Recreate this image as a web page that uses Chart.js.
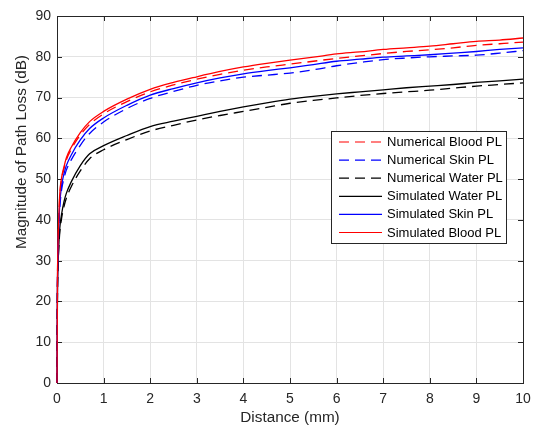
<!DOCTYPE html>
<html>
<head>
<meta charset="utf-8">
<script src="https://cdn.jsdelivr.net/npm/chart.js"></script>
<style>
	html, body { margin: 0; padding: 0; background: #fff; }
	#wrap { width: 534px; height: 429px; position: relative; }
</style>
</head>
<body>
<div id="wrap"><canvas id="plChart"></canvas></div>
<script>
// 거리 (mm)
const distance = [0, 0.01, 0.02, 0.04, 0.06, 0.1, 0.15, 0.2, 0.3, 0.5, 0.7, 1, 1.5, 2, 2.5, 3, 3.5, 4, 4.5, 5, 5.5, 6, 6.5, 7, 7.5, 8, 8.5, 9, 9.5, 10];

// 경로손실 (dB)
const numBlood = [0, 25, 33, 41, 46, 50, 52.6, 54.7, 57.2, 60.8, 63.4, 66, 69, 71.4, 73.1, 74.5, 75.7, 76.7, 77.5, 78.2, 78.9, 79.6, 80.2, 80.8, 81.3, 81.7, 82.2, 82.8, 83.2, 83.6];
const numSkin = [0, 24, 31, 38.5, 43, 47.5, 50.2, 52.2, 54.6, 58.3, 61.2, 64, 67.3, 69.8, 71.5, 73, 74.1, 75.0, 75.5, 76.0, 76.8, 77.8, 78.6, 79.3, 79.7, 80.0, 80.2, 80.4, 80.9, 81.5];
const numWater = [0, 22, 28, 33.5, 37, 40.5, 43.3, 45.3, 48, 52, 55, 57.2, 59.7, 61.8, 63.2, 64.5, 65.6, 66.6, 67.6, 68.6, 69.3, 69.9, 70.5, 71.0, 71.4, 71.8, 72.3, 72.8, 73.2, 73.6];
const simWater = [0, 22, 28, 34, 38, 41.5, 44.5, 46.5, 49.2, 53.3, 56.2, 58.2, 60.7, 62.9, 64.2, 65.4, 66.6, 67.7, 68.7, 69.6, 70.3, 70.9, 71.4, 71.9, 72.4, 72.8, 73.2, 73.7, 74.1, 74.5];
const simSkin = [0, 24, 31, 39, 44, 48.5, 51.3, 53.3, 55.8, 59.6, 62.4, 65, 68.1, 70.6, 72.2, 73.6, 74.8, 75.8, 76.6, 77.3, 78.1, 78.9, 79.4, 79.9, 80.2, 80.5, 80.9, 81.3, 81.8, 82.2];
const simBlood = [0, 25, 33, 41, 46.5, 50.5, 53, 55.2, 57.7, 61.4, 64.1, 66.6, 69.6, 72.0, 73.7, 75.1, 76.4, 77.5, 78.4, 79.2, 79.9, 80.7, 81.2, 81.8, 82.2, 82.6, 83.2, 83.8, 84.1, 84.6];

const seriesLabels = ["Numerical Blood PL", "Numerical Skin PL", "Numerical Water PL", "Simulated Water PL", "Simulated Skin PL", "Simulated Blood PL"];
const seriesValues = [numBlood, numSkin, numWater, simWater, simSkin, simBlood];
const seriesColors = ["#ff0000", "#0000ff", "#000000", "#000000", "#0000ff", "#ff0000"];
const seriesDashed = [true, true, true, false, false, false];

const xTicks = [0, 1, 2, 3, 4, 5, 6, 7, 8, 9, 10];
const yTicks = [0, 10, 20, 30, 40, 50, 60, 70, 80, 90];

const axisColor = "#262626";
const fontFamily = "'Liberation Sans', Arial, Helvetica, sans-serif";

// 데이터셋 생성 (마지막 시리즈가 맨 위에 그려지도록 order 지정)
let datasets = seriesLabels.map(function(label, i) {
	return {
		label: label,
		data: distance.map((d, j) => ({x: d, y: seriesValues[i][j]})),
		borderColor: seriesColors[i],
		borderDash: seriesDashed[i] ? [10, 6] : [],
		borderWidth: 1.3,
		pointRadius: 0,
		fill: false,
		clip: 2,
		order: seriesLabels.length - i,
		cubicInterpolationMode: 'monotone'
	};
});

// 축 테두리, 안쪽 눈금, 범례, y축 제목
const matlabFrame = {
	id: 'matlabFrame',
	// 선보다 먼저 테두리를 그려서 x=0 의 선이 축 위에 보이도록
	beforeDatasetsDraw(chart) {
		const {ctx, chartArea: {left, right, top, bottom}, scales: {x, y}} = chart;
		ctx.save();
		ctx.strokeStyle = axisColor;
		ctx.lineWidth = 1;
		ctx.strokeRect(left + 0.5, top + 0.5, right - left, bottom - top);

		// 안쪽 눈금
		ctx.beginPath();
		xTicks.forEach(v => {
			const px = Math.round(x.getPixelForValue(v)) + 0.5;
			ctx.moveTo(px, bottom); ctx.lineTo(px, bottom - 5);
			ctx.moveTo(px, top); ctx.lineTo(px, top + 5);
		});
		yTicks.forEach(v => {
			const py = Math.round(y.getPixelForValue(v)) + 0.5;
			ctx.moveTo(left, py); ctx.lineTo(left + 5, py);
			ctx.moveTo(right, py); ctx.lineTo(right - 5, py);
		});
		ctx.stroke();

		// y축 제목
		ctx.fillStyle = axisColor;
		ctx.font = '15.3px ' + fontFamily;
		ctx.textAlign = 'center';
		ctx.textBaseline = 'middle';
		ctx.translate(22, 152);
		ctx.rotate(-Math.PI / 2);
		ctx.fillText('Magnitude of Path Loss (dB)', 0, 0);
		ctx.restore();
	},
	afterDraw(chart) {
		const {ctx} = chart;
		// 범례
		const box = {x: 331.5, y: 131.5, w: 175, h: 112};
		ctx.save();
		ctx.fillStyle = '#ffffff';
		ctx.fillRect(box.x, box.y, box.w, box.h);
		ctx.strokeStyle = axisColor;
		ctx.lineWidth = 1;
		ctx.strokeRect(box.x, box.y, box.w, box.h);
		ctx.font = '13px ' + fontFamily;
		ctx.textAlign = 'left';
		ctx.textBaseline = 'middle';
		chart.data.datasets.forEach((ds, i) => {
			const ly = 142 + i * 18.1;
			ctx.strokeStyle = ds.borderColor;
			ctx.lineWidth = 1.2;
			ctx.setLineDash(ds.borderDash);
			ctx.beginPath();
			ctx.moveTo(339, ly);
			ctx.lineTo(382, ly);
			ctx.stroke();
			ctx.setLineDash([]);
			ctx.fillStyle = '#000000';
			ctx.fillText(ds.label, 387, ly + 0.5);
		});
		ctx.restore();
	}
};

let plChart = new Chart(document.getElementById('plChart').getContext('2d'), {
	type: 'line',
	data: { datasets: datasets },
	options: {
		responsive: true,
		maintainAspectRatio: false,
		animation: false,
		layout: { padding: { left: 0, right: 11, top: 16, bottom: 0 } },
		plugins: {
			legend: { display: false },
			tooltip: { enabled: false }
		},
		scales: {
			x: {
				type: 'linear',
				min: 0,
				max: 10,
				afterFit(scale) {
					scale.height = 46;
					scale.paddingLeft = 0;
					scale.paddingRight = 0;
				},
				afterBuildTicks(scale) { scale.ticks = xTicks.map(v => ({value: v})); },
				grid: { color: '#e3e3e3', drawTicks: false },
				border: { display: false },
				ticks: {
					color: axisColor,
					padding: 8,
					maxRotation: 0,
					font: { family: fontFamily, size: 14 }
				},
				title: {
					display: true,
					text: 'Distance (mm)',
					color: axisColor,
					padding: { top: 0, bottom: 2 },
					font: { family: fontFamily, size: 15.3 }
				}
			},
			y: {
				type: 'linear',
				min: 0,
				max: 90,
				afterFit(scale) {
					scale.width = 57;
					scale.paddingTop = 0;
					scale.paddingBottom = 0;
				},
				afterBuildTicks(scale) { scale.ticks = yTicks.map(v => ({value: v})); },
				grid: { color: '#e3e3e3', drawTicks: false },
				border: { display: false },
				ticks: {
					color: axisColor,
					padding: 6,
					font: { family: fontFamily, size: 14 }
				}
			}
		}
	},
	plugins: [matlabFrame]
});
</script>
</body>
</html>
